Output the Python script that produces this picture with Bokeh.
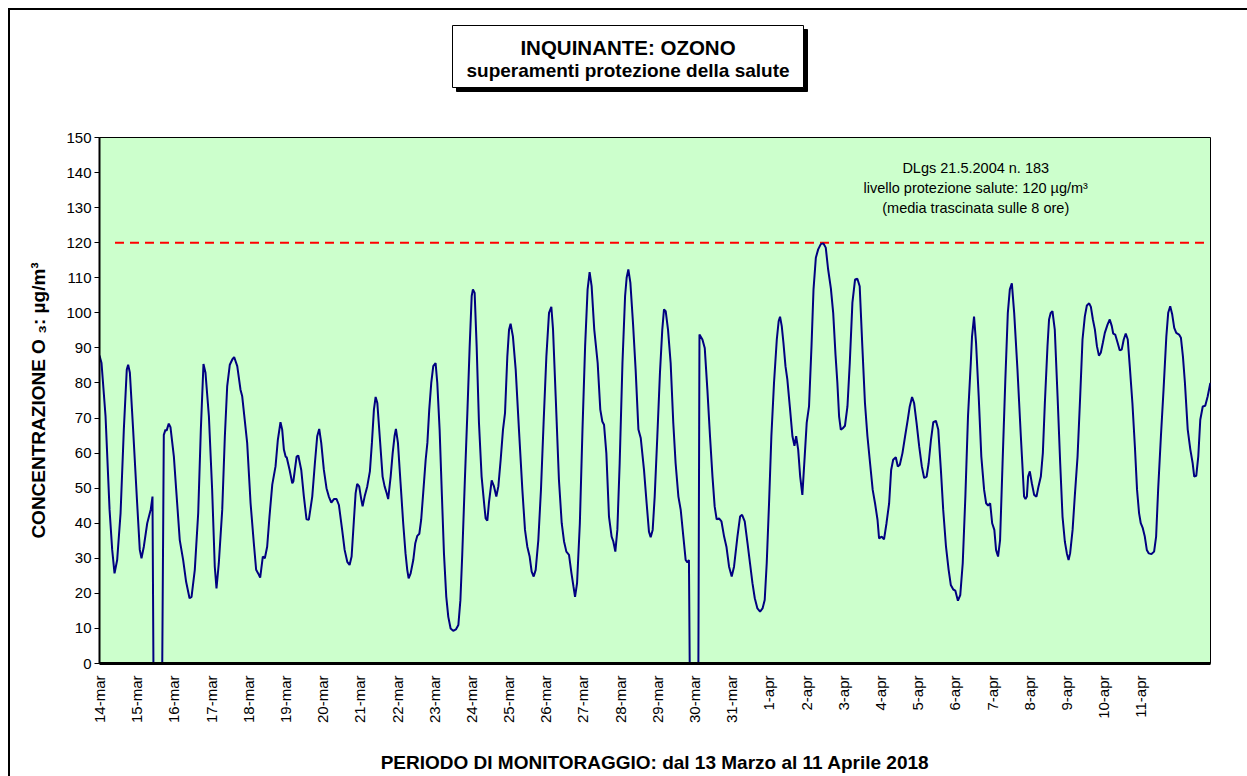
from math import pi
from bokeh.plotting import figure
from bokeh.layouts import column
from bokeh.models import Range1d, FixedTicker, Label
from bokeh.core.properties import value
from bokeh.embed import file_html
from bokeh.resources import INLINE

# hours since 14-mar 00:00, ozone 8-h running mean (µg/m³)
hours = [0, 1.3, 3.9, 6.5, 8.2, 9.7, 11.4, 13.6, 15.7, 17.6, 18.5, 19.6, 21.7, 24.3, 26.0, 27.1, 28.6, 30.8, 33.1, 34.2,
         34.8, 40.5, 41.5, 42.6, 43.3, 44.7, 45.8, 48.0, 49.5, 51.8, 54.0, 55.9, 58.1, 59.4, 61.5, 63.7, 65.4, 67.1, 68.4,
         70.6, 72.7, 74.4, 75.5, 77.0, 79.2, 80.9, 82.4, 84.1, 85.7, 86.9, 88.9, 91.0, 92.1, 95.3, 97.5, 99.6, 101.1,
         102.4, 103.7, 105.4, 106.7, 108.2, 109.7, 111.5, 113.6, 115.1, 116.8, 117.9, 119.0, 120.1, 120.8, 122.7, 124.4,
         125.1, 127.2, 128.3, 130.2, 131.9, 133.6, 135.1, 137.3, 139.0, 140.5, 141.8, 143.1, 144.8, 146.5, 148.0, 149.6,
         151.3, 153.0, 154.5, 156.6, 158.2, 159.9, 161.4, 162.7, 164.2, 165.3, 166.3, 167.6, 168.9, 169.8, 171.1, 172.8,
         174.5, 175.8, 177.1, 178.2, 179.3, 181.0, 182.7, 184.0, 185.3, 186.3, 187.9, 189.2, 190.4, 191.3, 192.6, 194.3,
         196.0, 197.5, 198.6, 199.5, 200.8, 202.5, 203.8, 205.1, 206.4, 207.6, 208.9, 210.5, 211.6, 212.8, 214.1, 215.4,
         216.9, 218.0, 219.5, 221.0, 222.3, 223.8, 225.1, 226.6, 228.3, 230.0, 231.6, 232.9, 234.1, 235.8, 237.4, 238.9,
         240.2, 241.0, 242.1, 243.4, 244.9, 246.6, 248.4, 249.2, 250.3, 251.3, 253.1, 254.6, 256.1, 257.4, 258.9, 260.4,
         261.7, 263.2, 264.3, 265.3, 266.8, 268.6, 270.7, 272.9, 274.6, 276.1, 277.6, 278.9, 280.2, 281.5, 283.2, 284.9,
         286.6, 288.4, 290.1, 291.6, 292.7, 294.4, 296.5, 298.3, 299.8, 301.3, 303.0, 304.6, 305.9, 306.9, 308.2, 310.0,
         311.7, 313.4, 315.0, 316.3, 317.6, 319.3, 321.5, 323.2, 324.5, 325.6, 327.1, 328.8, 330.5, 331.6, 332.9, 334.2,
         335.7, 337.5, 339.2, 340.2, 341.3, 342.6, 344.3, 346.0, 347.8, 349.3, 351.4, 353.1, 354.6, 355.7, 357.0, 358.3,
         360.0, 361.7, 363.2, 364.3, 365.4, 366.9, 368.6, 370.3, 371.8, 373.6, 375.1, 376.8, 378.3, 379.4, 380.4, 380.9,
         386.5, 387.2, 389.1, 390.6, 392.3, 394.0, 395.6, 397.0, 398.3, 399.8, 401.4, 403.1, 404.6, 406.3, 408.0, 409.5,
         411.7, 413.4, 414.7, 416.4, 418.2, 419.8, 421.4, 422.9, 424.6, 426.3, 427.9, 429.3, 430.6, 432.1, 433.6, 435.3,
         437.1, 438.3, 439.2, 440.3, 441.4, 442.7, 443.9, 445.5, 447.2, 448.5, 449.6, 450.9, 452.2, 453.6, 455.1, 456.4,
         457.9, 459.5, 460.8, 462.3, 463.8, 465.5, 467.2, 468.7, 470.2, 472.0, 473.5, 475.0, 476.2, 477.3, 478.4, 479.8,
         481.1, 482.7, 484.2, 485.9, 487.6, 489.1, 490.6, 492.3, 494.0, 495.6, 497.3, 499.0, 500.5, 502.1, 503.1, 504.8,
         506.3, 507.9, 509.6, 510.9, 512.2, 513.9, 515.2, 516.5, 518.2, 519.9, 521.6, 522.9, 524.4, 525.7, 527.3, 529.0,
         530.7, 532.2, 533.8, 535.1, 536.6, 538.1, 539.8, 541.3, 543.0, 544.5, 546.3, 548.0, 549.4, 551.0, 552.3, 554.0,
         555.5, 557.1, 558.8, 560.5, 562.3, 563.1, 564.4, 565.7, 567.4, 569.1, 570.9, 572.2, 573.5, 574.8, 576.1, 577.5,
         578.6, 579.9, 581.2, 582.8, 584.6, 586.2, 587.5, 588.8, 590.3, 592.4, 594.6, 596.7, 597.6, 598.5, 599.3, 600.4,
         601.7, 603.2, 604.7, 606.0, 607.5, 608.8, 610.1, 611.8, 612.8, 613.9, 615.0, 616.5, 618.3, 620.0, 621.5, 623.0,
         624.3, 625.4, 626.4, 628.0, 629.4, 631.2, 632.9, 634.4, 635.9, 637.2, 638.7, 639.8, 641.1, 642.4, 643.7, 645.0,
         646.2, 647.5, 648.8, 650.6, 652.0, 653.3, 654.2, 655.5, 657.1, 658.4, 659.7, 661.0, 662.3, 663.6, 664.9, 666.6,
         668.2, 669.6, 670.9, 672.0, 673.3, 674.6, 675.9, 677.2, 678.9, 680.6, 681.9, 683.2, 685.0, 686.7, 688.5, 689.7,
         691.0, 692.3, 693.6, 694.9, 696.7, 697.9, 699.2, 700.5, 702.3, 704.0, 705.5, 706.5, 707.8, 709.1, 710.4, 712.0,
         713.6, 715.2, 716.9]
o3 = [87.8, 85.7, 70.5, 43.8, 32.4, 25.7, 29.5, 42.9, 66.7, 83.8, 85.2, 82.9, 66.7, 45.7, 32.4, 30.0, 33.3, 40.0, 44.0, 47.6,
      0, 0, 65.2, 66.7, 66.4, 68.4, 67.4, 59.0, 49.5, 35.2, 29.5, 23.3, 18.6, 19.0, 26.7, 42.9, 66.7, 85.4, 82.9,
      70.5, 49.5, 27.6, 21.4, 28.6, 43.8, 64.8, 79.0, 85.2, 86.7, 87.4, 84.8, 78.1, 76.2, 62.9, 45.7, 34.3, 26.7,
      25.7, 24.5, 30.5, 30.0, 33.3, 41.9, 51.0, 56.2, 63.8, 68.8, 66.7, 61.0, 59.0, 58.8, 55.2, 51.4,
      51.9, 59.0, 59.3, 55.2, 47.6, 41.1, 41.0, 47.6, 57.1, 64.8, 66.9, 62.9, 55.2, 50.0, 47.6, 45.9,
      46.9, 46.9, 45.2, 38.1, 32.4, 29.0, 28.1, 30.5, 41.0, 48.6, 51.2, 50.5, 46.9, 44.8, 47.6, 50.5,
      54.8, 62.9, 72.4, 76.0, 74.3, 63.8, 53.3, 50.5, 48.6, 46.9, 53.3, 60.0, 64.8, 66.9, 62.9, 51.4,
      40.0, 31.4, 26.7, 24.3, 25.7, 29.5, 34.3, 36.4, 37.0, 41.0, 48.6, 58.1, 62.9, 72.4, 80.0, 84.8,
      85.7, 80.0, 66.7, 47.6, 31.4, 19.0, 13.3, 10.0, 9.3, 9.7, 11.0, 18.0, 31.0, 52.4, 71.4, 90.5,
      104.8, 106.7, 105.7, 90.5, 68.6, 53.3, 44.8, 41.4, 40.7, 45.7, 52.2, 50.5, 47.6, 50.5, 58.1, 66.7,
      71.4, 87.6, 95.2, 96.9, 93.3, 83.8, 66.7, 49.5, 38.1, 33.3, 30.5, 26.2, 24.8, 26.7, 35.2, 49.5,
      68.6, 87.6, 100.0, 101.7, 95.2, 76.2, 52.4, 40.0, 34.8, 31.9, 31.0, 25.7, 21.9, 19.0, 22.9, 40.0,
      66.7, 90.5, 106.7, 111.6, 107.6, 95.2, 85.7, 72.4, 69.0, 68.1, 60.0, 41.9, 36.2, 34.8, 31.9, 38.1,
      57.1, 85.7, 104.8, 110.0, 112.4, 108.6, 97.1, 83.8, 66.7, 64.3, 55.2, 45.7, 37.6, 36.0, 38.1, 47.6,
      64.8, 82.9, 95.2, 101.0, 100.5, 95.2, 85.7, 68.6, 57.1, 47.6, 43.8, 36.2, 29.5, 28.8, 29.5, 0,
      0, 93.8, 92.4, 90.0, 78.1, 64.8, 53.3, 44.8, 41.1, 41.4, 40.5, 36.2, 33.3, 27.6, 24.8, 27.6,
      36.2, 41.9, 42.4, 40.5, 34.3, 28.6, 22.9, 18.6, 15.7, 14.8, 15.7, 18.1, 28.6, 45.7, 64.8, 80.0,
      92.4, 97.6, 98.9, 96.2, 91.4, 84.8, 81.0, 73.3, 64.8, 62.1, 64.8, 61.0, 53.3, 48.1, 59.0, 68.6,
      73.3, 90.5, 106.7, 115.7, 118.1, 119.6, 119.8, 118.6, 112.5, 107.0, 100.0, 88.0, 80.0, 70.5, 66.7, 67.1,
      67.8, 73.3, 85.7, 102.9, 109.5, 109.7, 107.6, 90.5, 74.3, 64.8, 57.1, 49.5, 45.7, 41.0, 35.7, 36.2,
      35.4, 40.0, 45.7, 55.2, 58.1, 58.8, 56.2, 56.7, 60.0, 64.8, 69.5, 73.3, 76.0, 74.3, 68.6, 61.9,
      56.2, 52.9, 53.3, 57.1, 63.8, 68.8, 69.2, 66.7, 55.2, 43.8, 33.3, 26.7, 22.4, 21.1, 20.8, 17.9,
      19.5, 28.6, 47.6, 70.5, 85.7, 93.3, 98.9, 91.4, 76.2, 59.0, 49.5, 45.7, 45.0, 45.7, 40.0, 38.1,
      32.4, 30.5, 35.2, 57.1, 81.0, 100.0, 106.7, 108.4, 100.0, 84.0, 64.8, 47.6, 46.9, 47.6, 53.3, 54.8,
      51.4, 48.1, 47.6, 50.5, 53.3, 60.0, 74.3, 90.5, 98.1, 100.0, 100.5, 95.2, 76.2, 57.1, 41.9, 34.8,
      31.4, 29.5, 31.4, 38.1, 47.6, 59.0, 76.2, 92.4, 99.0, 102.1, 102.7, 101.7, 98.1, 95.2, 90.5, 87.8,
      88.6, 91.4, 94.3, 96.7, 98.1, 96.2, 94.1, 93.8, 91.4, 89.3, 89.5, 92.4, 94.1, 92.4, 84.8, 74.3,
      61.9, 49.5, 42.9, 40.0, 38.6, 36.2, 32.4, 31.4, 31.2, 31.9, 36.2, 49.5, 64.8, 78.1, 93.3, 100.0,
      101.9, 99.5, 95.7, 94.3, 93.8, 92.9, 87.6, 80.0, 66.7, 61.0, 57.1, 53.3, 53.5, 59.0, 69.5, 73.3,
      73.5, 76.2, 80.0]

day_labels = ["14-mar", "15-mar", "16-mar", "17-mar", "18-mar", "19-mar", "20-mar", "21-mar", "22-mar", "23-mar",
              "24-mar", "25-mar", "26-mar", "27-mar", "28-mar", "29-mar", "30-mar", "31-mar", "1-apr", "2-apr",
              "3-apr", "4-apr", "5-apr", "6-apr", "7-apr", "8-apr", "9-apr", "10-apr", "11-apr"]
y_ticks = [0, 10, 20, 30, 40, 50, 60, 70, 80, 90, 100, 110, 120, 130, 140, 150]
LIMIT = 120
limit_hours = [10, 714]
title_lines = ["INQUINANTE: OZONO", "superamenti protezione della salute"]

FONT = "Liberation Sans"
W = 1247
LEFT, RIGHT = 99, 37

# ---------- title strip (pixel coordinates, y downwards) ----------
TH = 100
tf = figure(width=W, height=TH, output_backend="svg", toolbar_location=None,
            x_range=Range1d(LEFT, W - RIGHT), y_range=Range1d(TH, 0),
            x_axis_location=None, y_axis_location=None,
            min_border_left=LEFT, min_border_right=RIGHT, min_border_top=0, min_border_bottom=0)
tf.outline_line_color = None
tf.background_fill_alpha = 0
tf.border_fill_alpha = 0
tf.grid.visible = False
tf.quad(left=[456], right=[807], top=[29], bottom=[91], fill_color="black", line_color="black")
tf.quad(left=[452], right=[803], top=[25], bottom=[87], fill_color="white", line_color="black", line_width=1)
tf.text(x=[627.5], y=[46.7], text=[title_lines[0]], text_align="center", text_baseline="middle",
        text_font=value(FONT), text_font_style="bold", text_font_size="20.5px", text_color="black")
tf.text(x=[627.5], y=[70], text=[title_lines[1]], text_align="center", text_baseline="middle",
        text_font=value(FONT), text_font_style="bold", text_font_size="19px", text_color="black")

# ---------- main chart ----------
p = figure(width=W, height=676, output_backend="svg", toolbar_location=None,
           x_range=Range1d(0, 717), y_range=Range1d(0, 150),
           min_border_left=LEFT, min_border_right=RIGHT, min_border_top=37, min_border_bottom=113)
p.background_fill_color = "#CCFFCC"
p.border_fill_alpha = 0
p.outline_line_color = "black"
p.outline_line_width = 1
p.grid.visible = False

# y axis
ya = p.yaxis[0]
ya.ticker = FixedTicker(ticks=y_ticks)
ya.major_tick_in = 0
ya.major_tick_out = 5
ya.minor_tick_line_color = None
ya.axis_line_width = 2
ya.major_label_text_font = FONT
ya.major_label_text_font_size = "15px"
ya.major_label_text_color = "black"
ya.major_label_standoff = 3
ya.axis_label = "CONCENTRAZIONE O \u2083: \u00b5g/m\u00b3"
ya.axis_label_text_font = FONT
ya.axis_label_text_font_style = "bold"
ya.axis_label_text_font_size = "19px"
ya.axis_label_text_color = "black"
ya.axis_label_standoff = 14

# x axis
xa = p.xaxis[0]
day_ticks = [24 * i for i in range(len(day_labels))]
xa.ticker = FixedTicker(ticks=day_ticks)
xa.major_label_overrides = {t: lab for t, lab in zip(day_ticks, day_labels)}
xa.major_label_orientation = pi / 2
xa.major_tick_in = 0
xa.major_tick_out = 0
xa.minor_tick_line_color = None
xa.axis_line_width = 3
xa.major_label_text_font = FONT
xa.major_label_text_font_size = "15px"
xa.major_label_text_color = "black"
xa.major_label_standoff = 12
xa.axis_label = "PERIODO DI MONITORAGGIO: dal 13 Marzo al 11 Aprile 2018"
xa.axis_label_text_font = FONT
xa.axis_label_text_font_style = "bold"
xa.axis_label_text_font_size = "19px"
xa.axis_label_text_color = "black"
xa.axis_label_standoff = 26

# limit line and data
p.line(limit_hours, [LIMIT] * len(limit_hours), line_color="#FF0000", line_width=2, line_dash="9 6")
p.line(hours, o3, line_color="#000080", line_width=2)

# annotation inside plot
for txt, yv in [("DLgs 21.5.2004 n. 183", 141.4),
                ("livello protezione salute: 120 \u00b5g/m\u00b3", 135.7),
                ("(media trascinata sulle 8 ore)", 130.0)]:
    p.add_layout(Label(x=565.5, y=yv, text=txt, text_align="center", text_baseline="middle",
                       text_font=FONT, text_font_size="14.5px", text_color="black"))

# outer chart frame: only its top and left edges fall inside the window
layout = column(tf, p, spacing=0,
                styles={"background": "linear-gradient(#000, #000) 8px 8px / 2px 100% no-repeat, "
                                      "linear-gradient(#000, #000) 8px 8px / 100% 2px no-repeat"})

open("out.html", "w").write(file_html(layout, INLINE))
